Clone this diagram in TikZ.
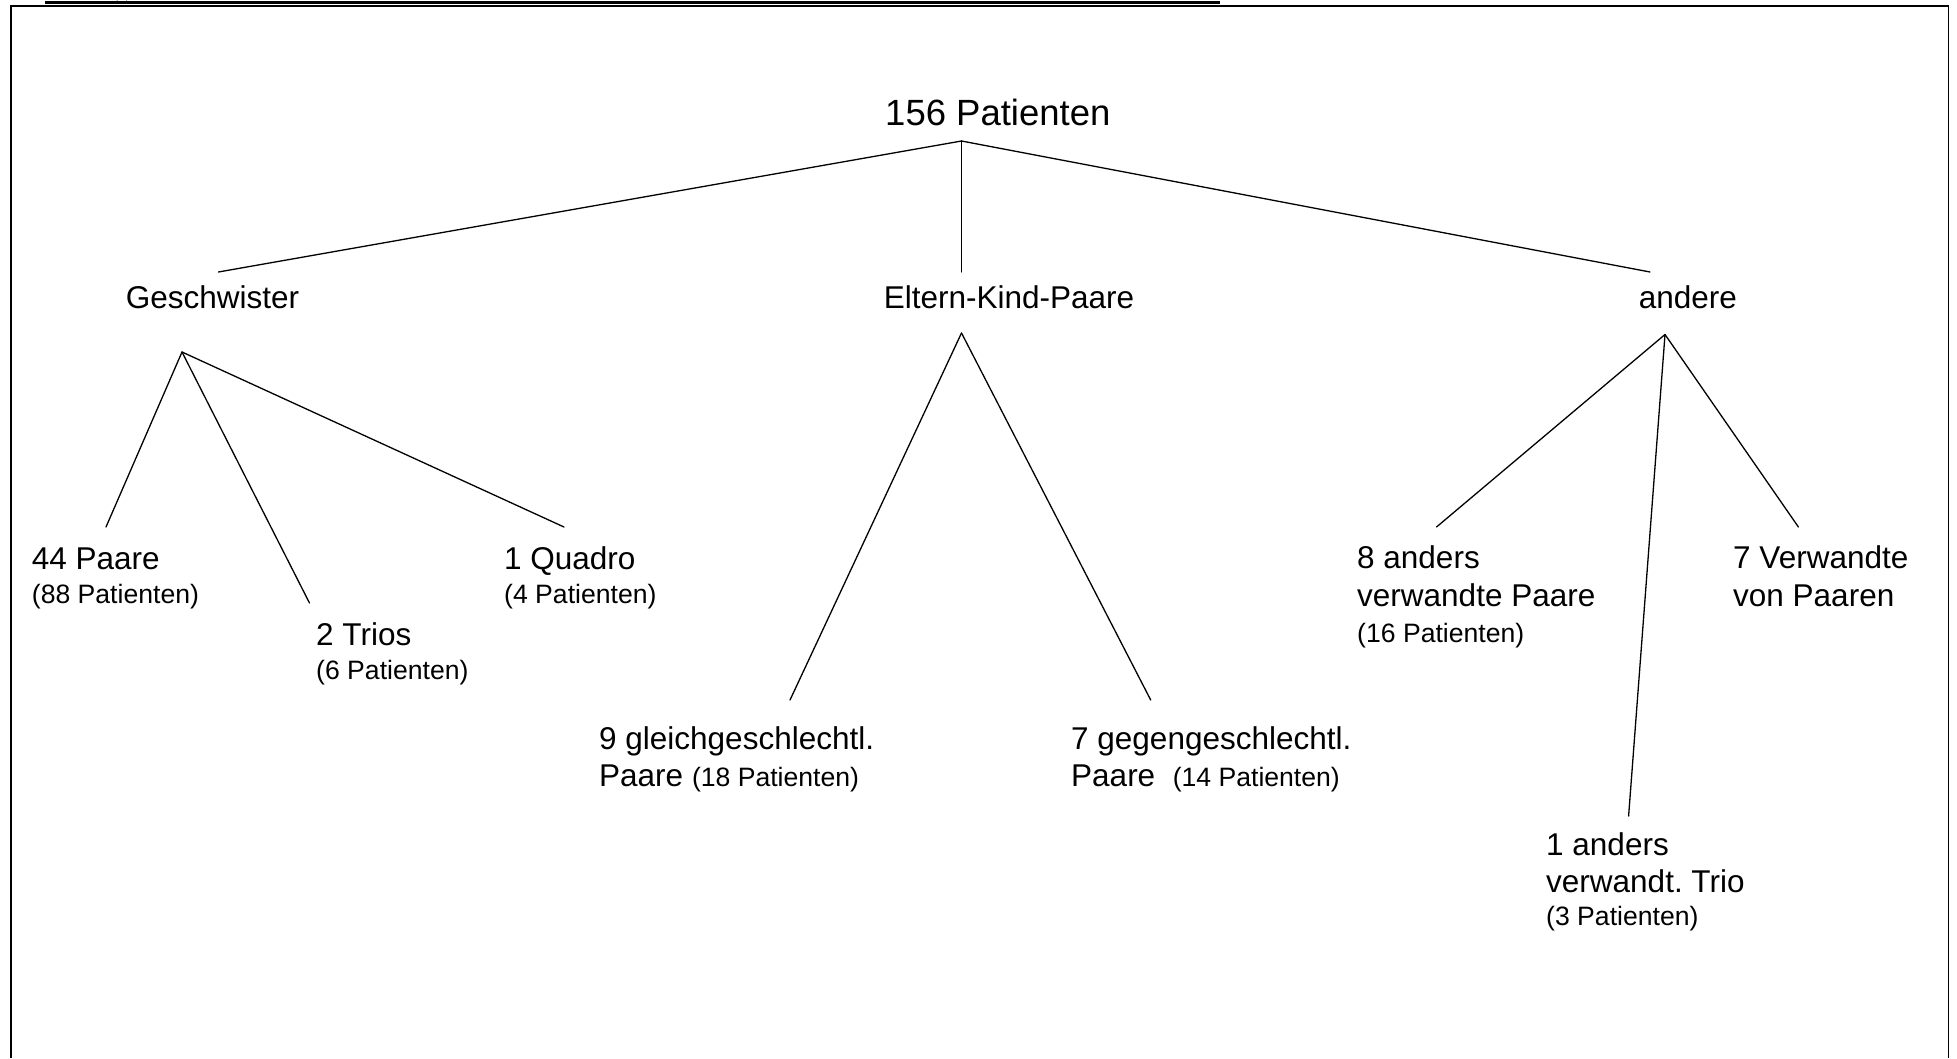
\documentclass[tikz,border=0pt]{standalone}
\usepackage{fontspec}
\setmainfont{Liberation Sans}
\frenchspacing
\newcommand{\bigf}{\fontsize{31.5}{37}\selectfont}
\newcommand{\smf}{\fontsize{26.6}{30}\selectfont}
\begin{document}
\begin{tikzpicture}[x=1pt,y=-1pt,
  lbl/.style={inner sep=0pt, anchor=base west, font=\bigf},
  sml/.style={inner sep=0pt, anchor=base west, font=\smf},
  ttl/.style={inner sep=0pt, anchor=base west, font=\fontsize{36.5}{42}\selectfont},
  conn/.style={line width=1.3pt, line cap=round}]
\useasboundingbox (0,0) rectangle (1957,1058);
% frame and top rule
\draw[line width=1.5pt] (11,1058) -- (11,6) -- (1948.5,6) -- (1948.5,1058);
\draw[line width=2.6pt] (45,2.2) -- (1220,2.2);
\draw[line width=1.8pt] (116.5,0) arc[start angle=180,end angle=360,x radius=5.3,y radius=3.2];
% labels
\node[ttl] (root) at (885,125.7) {156 Patienten};
\node[lbl] (gesch) at (125.7,308.5) {Geschwister};
\node[lbl] (eltern) at (883.6,308.5) {Eltern-Kind-Paare};
\node[lbl] (andere) at (1638.6,308.5) {andere};
\node[lbl] (p44) at (31.7,569) {44 Paare};
\node[sml] (p44b) at (31.7,603) {(88 Patienten)};
\node[lbl] (quadro) at (504,569) {1 Quadro};
\node[sml] (quadrob) at (504,603) {(4 Patienten)};
\node[lbl] (trios) at (316,645) {2 Trios};
\node[sml] (triosb) at (316,679) {(6 Patienten)};
\node[lbl] (gleich) at (599,749) {9 gleichgeschlechtl.};
\node[lbl] (gleichb) at (599,786) {Paare {\smf(18 Patienten)}};
\node[lbl] (gegen) at (1071,749) {7 gegengeschlechtl.};
\node[lbl] (gegenb) at (1071,786) {Paare\ \ {\smf(14 Patienten)}};
\node[lbl] (anders) at (1357,568) {8 anders};
\node[lbl] (andersb) at (1357,606) {verwandte Paare};
\node[sml] (andersc) at (1357,642) {(16 Patienten)};
\node[lbl] (verw) at (1733,568) {7 Verwandte};
\node[lbl] (verwb) at (1733,606) {von Paaren};
\node[lbl] (trio) at (1546,855) {1 anders};
\node[lbl] (triob) at (1546,892) {verwandt. Trio};
\node[sml] (trioc) at (1546,925) {(3 Patienten)};
% connector points
\coordinate (rj) at (961.5,141);
\coordinate (gt) at (218.4,272);
\coordinate (et) at (961.5,272);
\coordinate (at) at (1650,272);
\coordinate (gj) at (182,352);
\coordinate (ej) at (961.5,333);
\coordinate (aj) at (1665,334.5);
\coordinate (p44t) at (106,527);
\coordinate (triost) at (309.5,603);
\coordinate (quadrot) at (564,527);
\coordinate (gleicht) at (790,700);
\coordinate (gegent) at (1150.7,700);
\coordinate (anderst) at (1436.5,527);
\coordinate (triot) at (1628.6,816);
\coordinate (verwt) at (1798.4,527);
% connectors
\draw[conn] (rj) -- (gt);
\draw[conn] (rj) -- (et);
\draw[conn] (rj) -- (at);
\draw[conn] (gj) -- (p44t);
\draw[conn] (gj) -- (triost);
\draw[conn] (gj) -- (quadrot);
\draw[conn] (ej) -- (gleicht);
\draw[conn] (ej) -- (gegent);
\draw[conn] (aj) -- (anderst);
\draw[conn] (aj) -- (triot);
\draw[conn] (aj) -- (verwt);
\end{tikzpicture}
\end{document}
